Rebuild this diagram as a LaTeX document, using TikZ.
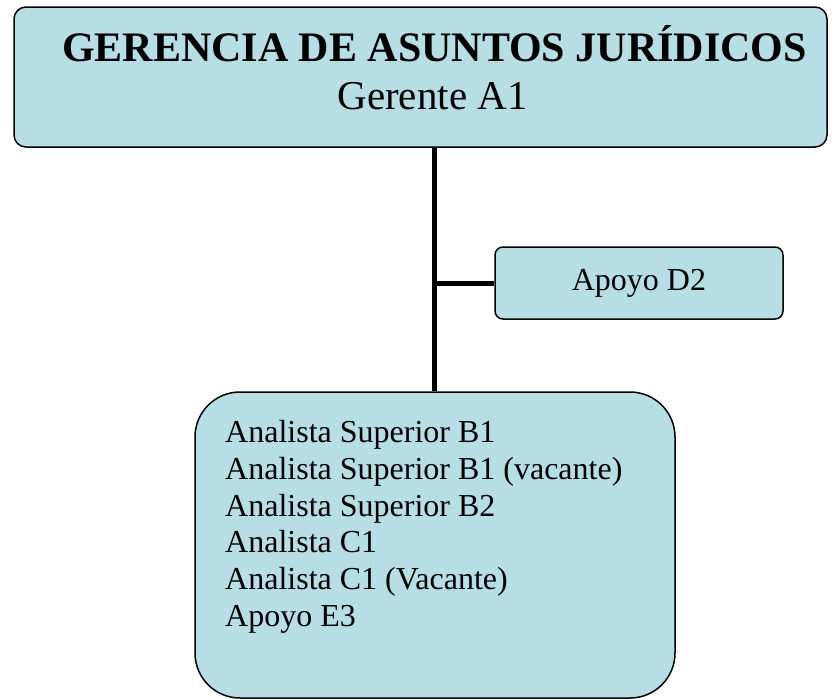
\documentclass[tikz,border=0pt]{standalone}
\usepackage{fontspec}
\setmainfont{Liberation Serif}
\definecolor{boxfill}{RGB}{183,222,228}
\begin{document}
\begin{tikzpicture}[x=1pt,y=-1pt,
  orgbox/.style={draw=black,line width=1.5pt,fill=boxfill,inner sep=0pt},
  conn/.style={line width=5pt}]
\useasboundingbox (0,0) rectangle (839,699);
\node[orgbox,rounded corners=12pt,minimum width=813pt,minimum height=140pt] (top) at (420.5,77) {};
\node[anchor=base,inner sep=0pt,font=\fontsize{42}{48}\selectfont\bfseries] (title) at (434.5,61) {GERENCIA DE ASUNTOS JURÍDICOS};
\node[anchor=base,inner sep=0pt,font=\fontsize{41}{48}\selectfont] (sub) at (432.5,109) {Gerente A1};
\node[orgbox,rounded corners=8pt,minimum width=288pt,minimum height=72pt,font=\fontsize{32}{37}\selectfont] (apoyo) at (639,283) {Apoyo D2};
\node[orgbox,rounded corners=45pt,minimum width=480pt,minimum height=306pt] (staff) at (435,545) {};
\node[anchor=north west,inner sep=0pt,align=left,font=\fontsize{32}{36.8}\selectfont] (list) at (225,420) {Analista Superior B1\\Analista Superior B1 (vacante)\\Analista Superior B2\\Analista C1\\Analista C1 (Vacante)\\Apoyo E3};
\coordinate (j) at (434,283);
\draw[conn] (top.south -| j) -- (staff.north -| j);
\draw[conn] (j) -- (apoyo.west);
\end{tikzpicture}
\end{document}
